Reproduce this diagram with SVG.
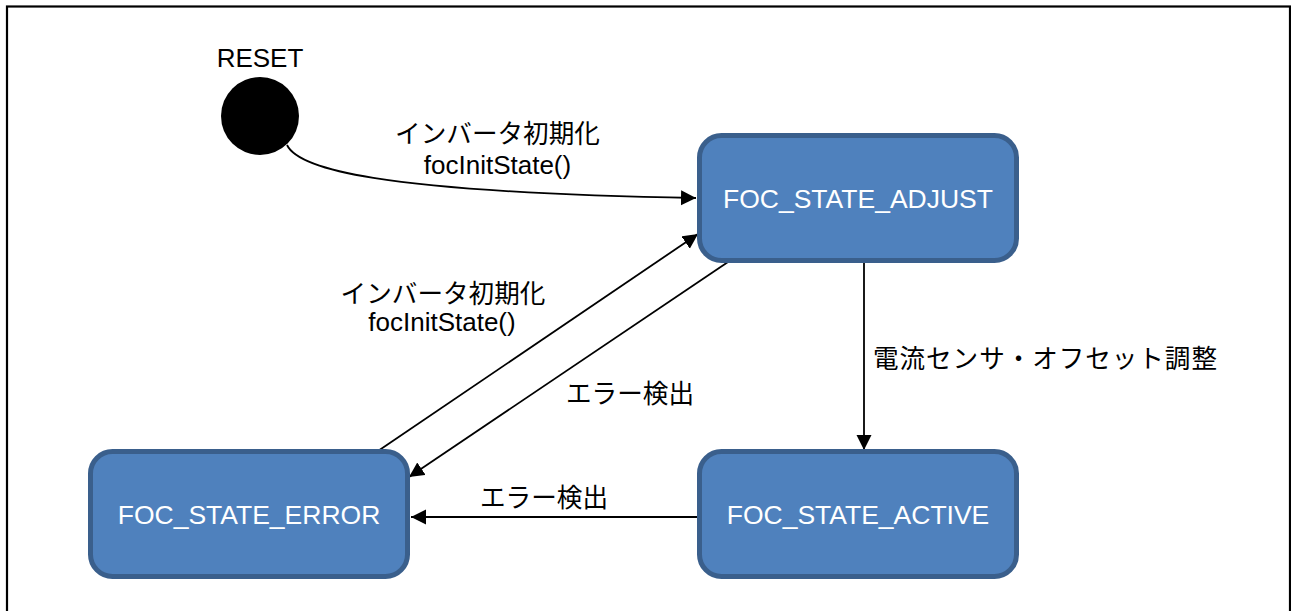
<svg xmlns="http://www.w3.org/2000/svg" width="1291" height="611" viewBox="0 0 1291 611">
  <style>
    .node rect { fill: #4f81bd; stroke: #3a5f8c; stroke-width: 5; }
    .ntext { font-family: "Liberation Sans", Arial, sans-serif; font-size: 26.5px; fill: #ffffff; text-anchor: middle; }
    .label { font-family: "Liberation Sans", "Noto Sans CJK JP", sans-serif; font-size: 26px; fill: #000000; text-anchor: middle; }
    .jp { font-family: "Liberation Sans", "Noto Sans CJK JP", sans-serif; font-size: 25.6px; fill: #000000; }
    .edge { fill: none; stroke: #000000; stroke-width: 1.8; }
  </style>
  <defs>
    <marker id="arrow" markerUnits="userSpaceOnUse" markerWidth="16" markerHeight="16" refX="15" refY="7.5" orient="auto">
      <path d="M0,0 L15,7.5 L0,15 Z" fill="#000000"/>
    </marker>
  </defs>
  <rect x="7" y="6.5" width="1283" height="640" fill="#ffffff" stroke="#000000" stroke-width="2.2"/>

  <g id="connectors">
    <path class="edge" d="M287,145 C298,168 370,192 696,198" marker-end="url(#arrow)"/>
    <path class="edge" d="M864,263 L864,450" marker-end="url(#arrow)"/>
    <path class="edge" d="M378,451 L698,234" marker-end="url(#arrow)"/>
    <path class="edge" d="M728,262 L409,477" marker-end="url(#arrow)"/>
    <path class="edge" d="M697,517 L411,517" marker-end="url(#arrow)"/>
  </g>

  <g id="labels">
    <text class="label" x="260" y="67">RESET</text>
    <text class="jp" x="497.5" y="143" text-anchor="middle">インバータ初期化</text>
    <text class="label" x="497.5" y="174">focInitState()</text>
    <text class="jp" x="443" y="303" text-anchor="middle">インバータ初期化</text>
    <text class="label" x="442" y="331">focInitState()</text>
    <text class="jp" x="630" y="403" text-anchor="middle">エラー検出</text>
    <text class="jp" x="544" y="507" text-anchor="middle">エラー検出</text>
    <text class="jp" x="873" y="368" textLength="344">電流センサ・オフセット調整</text>
  </g>

  <g id="reset">
    <circle cx="260" cy="116" r="39" fill="#000000"/>
  </g>

  <g id="adjust" class="node">
    <rect x="699.5" y="135.5" width="317" height="125" rx="22" ry="22"/>
    <text class="ntext" x="858" y="208">FOC_STATE_ADJUST</text>
  </g>

  <g id="error" class="node">
    <rect x="90.5" y="451.5" width="317" height="125" rx="22" ry="22"/>
    <text class="ntext" x="249" y="524">FOC_STATE_ERROR</text>
  </g>

  <g id="active" class="node">
    <rect x="699.5" y="451.5" width="317" height="125" rx="22" ry="22"/>
    <text class="ntext" x="858" y="524">FOC_STATE_ACTIVE</text>
  </g>
</svg>
